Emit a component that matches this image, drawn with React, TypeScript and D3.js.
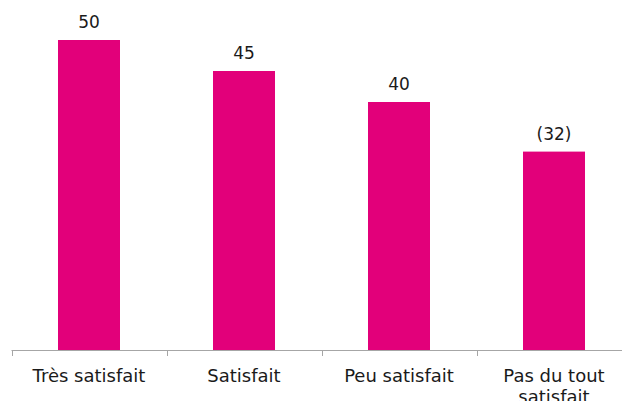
import React from "react";
import * as d3 from "d3";

const categories: string[][] = [["Très satisfait"], ["Satisfait"], ["Peu satisfait"], ["Pas du tout", "satisfait"]];
const values: number[] = [50, 45, 40, 32];
const valueLabels: string[] = ["50", "45", "40", "(32)"];

const W = 622;
const H = 401;
const left = 11.5;
const bandW = 155;
const baseY = 350;

export default function App() {
  const x = d3
    .scaleBand<number>()
    .domain(values.map((_, i) => i))
    .range([left, left + bandW * values.length])
    .paddingInner(0.6)
    .paddingOuter(0.3);
  const y = d3.scaleLinear().domain([0, 50]).range([baseY, 40]);
  const font = "'DejaVu Sans', Verdana, sans-serif";
  const ticks = d3.range(values.length + 1).map((i) => left + i * bandW);
  return (
    <svg width={W} height={H} style={{ position: "absolute", left: 0, top: 0 }}>
      {values.map((v, i) => (
        <g key={i}>
          <rect x={x(i)} y={y(v)} width={x.bandwidth()} height={baseY - y(v)} fill="#E2007A" />
          <text
            x={(x(i) as number) + x.bandwidth() / 2}
            y={y(v) - 12}
            textAnchor="middle"
            fontFamily={font}
            fontSize={17}
            fill="#1a1a1a"
          >
            {valueLabels[i]}
          </text>
          {categories[i].map((line, j) => (
            <text
              key={j}
              x={(x(i) as number) + x.bandwidth() / 2}
              y={382 + j * 21}
              textAnchor="middle"
              fontFamily={font}
              fontSize={18}
              fill="#1a1a1a"
            >
              {line}
            </text>
          ))}
        </g>
      ))}
      <line x1={left} x2={W} y1={baseY + 0.5} y2={baseY + 0.5} stroke="#A6A6A6" strokeWidth={1} />
      {ticks.map((t, i) => (
        <line key={i} x1={Math.round(t) + 0.5} x2={Math.round(t) + 0.5} y1={baseY} y2={baseY + 6} stroke="#A6A6A6" strokeWidth={1} />
      ))}
    </svg>
  );
}
